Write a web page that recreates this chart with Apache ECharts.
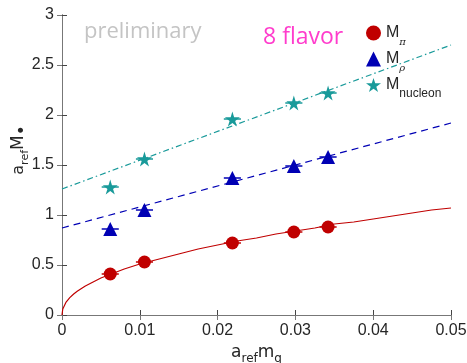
<!DOCTYPE html>
<html><head><meta charset="utf-8">
<script src="https://cdn.jsdelivr.net/npm/echarts@6/dist/echarts.min.js"></script>
<style>html,body{margin:0;padding:0;background:#fff}#c{width:467px;height:363px}</style>
</head><body><div id="c"></div>
<script>
// Data
const mq = [0.0062, 0.0106, 0.0219, 0.0298, 0.0342];
const mPi = [0.41, 0.53, 0.72, 0.83, 0.88];
const mRho = [0.86, 1.05, 1.37, 1.49, 1.58];
const mNucleon = [1.28, 1.56, 1.96, 2.12, 2.22];
const mqErr = [0.0011, 0.0011, 0.0011, 0.0011, 0.0011];
// fit curves
const fitPiX = [0, 0.0001, 0.0002, 0.0005, 0.001, 0.0015, 0.002, 0.003, 0.004, 0.005, 0.006, 0.008, 0.01, 0.0125, 0.015, 0.0175, 0.02, 0.0225, 0.025, 0.0275, 0.03, 0.0325, 0.035, 0.0375, 0.04, 0.0425, 0.045, 0.0475, 0.05];
const fitPiY = [0, 0.06, 0.08, 0.126, 0.174, 0.21, 0.24, 0.29, 0.33, 0.37, 0.40, 0.46, 0.51, 0.56, 0.61, 0.66, 0.70, 0.74, 0.77, 0.81, 0.84, 0.87, 0.91, 0.93, 0.96, 0.99, 1.02, 1.05, 1.07];
const fitRhoX = [0, 0.05];
const fitRhoY = [0.87, 1.92];
const fitNucX = [0, 0.05];
const fitNucY = [1.26, 2.70];
const xTicks = [0, 0.01, 0.02, 0.03, 0.04, 0.05];
const yTicks = [0, 0.5, 1, 1.5, 2, 2.5, 3];

const cPi = '#c00000', cRho = '#0000b4', cNuc = '#199a9a';
const star = 'path://M50,0 L61,35 L98,35 L68,57 L79,91 L50,70 L21,91 L32,57 L2,35 L39,35 Z';
const zip = (a, b) => a.map((v, i) => [v, b[i]]);
function errSeries(ys, color) {
  return {
    type: 'custom', silent: true, z: 2,
    data: mq.map((x, i) => [x, ys[i], mqErr[i]]),
    renderItem: function (params, api) {
      const x = api.value(0), y = api.value(1), e = api.value(2);
      const p1 = api.coord([x - e, y]), p2 = api.coord([x + e, y]);
      return { type: 'line', shape: { x1: p1[0], y1: p1[1], x2: p2[0], y2: p2[1] }, style: { stroke: color, lineWidth: 1.5 } };
    }
  };
}
const tickFont = { fontFamily: 'Liberation Sans', fontSize: 16, color: '#262626' };
const chart = echarts.init(document.getElementById('c'));
chart.setOption({
  animation: false,
  grid: { left: 62, right: 16, top: 15, bottom: 48, containLabel: false, outerBoundsMode: 'none' },
  xAxis: [{
    type: 'value', min: 0, max: 0.05, interval: 0.01,
    axisLine: { lineStyle: { color: '#444', width: 1 } },
    axisTick: { inside: true, length: 5, lineStyle: { color: '#444' } },
    splitLine: { show: false },
    axisLabel: Object.assign({ margin: 8, formatter: v => xTicks.includes(+v.toFixed(2)) ? String(+v.toFixed(2)) : '' }, tickFont),
    name: '{a|a}{s|ref}{m|m}{s|q}', nameLocation: 'middle', nameGap: 27,
    nameTextStyle: { rich: {
      a: { fontFamily: 'DejaVu Sans', fontSize: 17, color: '#262626', verticalAlign: 'bottom' },
      m: { fontFamily: 'DejaVu Sans', fontSize: 17, color: '#262626', verticalAlign: 'bottom' },
      s: { fontFamily: 'DejaVu Sans', fontSize: 12, color: '#262626', verticalAlign: 'bottom', padding: [0, 0, -4, 0] }
    } }
  }, {
    type: 'value', min: 0, max: 0.05, interval: 0.01, position: 'top',
    axisLine: { show: true, lineStyle: { color: '#777' } },
    axisTick: { show: true, inside: true, length: 5, lineStyle: { color: '#777' } },
    axisLabel: { show: false }, splitLine: { show: false }
  }],
  yAxis: [{
    type: 'value', min: 0, max: 3, interval: 0.5,
    axisLine: { show: true, lineStyle: { color: '#444' } },
    axisTick: { show: true, inside: true, length: 5, lineStyle: { color: '#444' } },
    splitLine: { show: false },
    axisLabel: Object.assign({ margin: 8, formatter: v => String(v) }, tickFont),
    name: '{a|a}{s|ref}{m|M}{d|•}', nameLocation: 'middle', nameGap: 35, nameRotate: 90, nameMoveOverlap: false,
    nameTextStyle: { padding: [0, 0, 0, 30], rich: {
      a: { fontFamily: 'DejaVu Sans', fontSize: 16, color: '#262626', verticalAlign: 'bottom' },
      m: { fontFamily: 'DejaVu Sans', fontSize: 17, color: '#262626', verticalAlign: 'bottom' },
      d: { fontFamily: 'DejaVu Sans', fontSize: 17, color: '#262626', verticalAlign: 'bottom', padding: [0, 0, -4, 0] },
      s: { fontFamily: 'DejaVu Sans', fontSize: 11, color: '#262626', verticalAlign: 'bottom', padding: [0, 0, -4, 0] }
    } }
  }, {
    type: 'value', min: 0, max: 3, interval: 0.5, position: 'right',
    axisLine: { show: true, lineStyle: { color: '#777' } },
    axisTick: { show: true, inside: true, length: 5, lineStyle: { color: '#777' } },
    axisLabel: { show: false }, splitLine: { show: false }
  }],
  legend: {
    orient: 'vertical', left: 366, top: 25, padding: 0, itemGap: 4, itemWidth: 15, itemHeight: 15,
    data: [
      { name: 'pi', icon: 'circle' },
      { name: 'rho', icon: 'triangle' },
      { name: 'nucleon', icon: star }
    ],
    formatter: n => n === 'pi' ? '{m|M}{g|π}' : n === 'rho' ? '{m|M}{g|ρ}' : '{m|M}{s|nucleon}',
    textStyle: { rich: {
      m: { fontFamily: 'Liberation Sans', fontSize: 16, color: '#262626', verticalAlign: 'bottom' },
      g: { fontFamily: 'DejaVu Serif', fontStyle: 'italic', fontSize: 10, color: '#262626', verticalAlign: 'bottom', padding: [0, 0, -6, 0] },
      s: { fontFamily: 'Liberation Sans', fontSize: 12, color: '#262626', verticalAlign: 'bottom', padding: [0, 0, -7, 0] }
    } }
  },
  graphic: [
    { type: 'text', left: 84, top: 21, style: { text: 'preliminary', fontFamily: 'Open Sans', fontSize: 22, fill: '#c4c4c4' } },
    { type: 'text', left: 263, top: 26, style: { text: '8 flavor', fontFamily: 'Open Sans', fontSize: 23, fill: '#ff3ccc' } }
  ],
  series: [
    { type: 'line', data: zip(fitPiX, fitPiY), smooth: false, showSymbol: false, silent: true, lineStyle: { color: cPi, width: 1.2 }, z: 1 },
    { type: 'line', data: zip(fitRhoX, fitRhoY), showSymbol: false, silent: true, lineStyle: { color: cRho, width: 1.2, type: [7, 5] }, z: 1 },
    { type: 'line', data: zip(fitNucX, fitNucY), showSymbol: false, silent: true, lineStyle: { color: cNuc, width: 1.2, type: [6, 3, 1.5, 3] }, z: 1 },
    errSeries(mPi, cPi), errSeries(mRho, cRho), errSeries(mNucleon, cNuc),
    { name: 'pi', type: 'scatter', data: zip(mq, mPi), symbol: 'circle', symbolSize: 13, itemStyle: { color: cPi, opacity: 1 }, z: 3 },
    { name: 'rho', type: 'scatter', data: zip(mq, mRho), symbol: 'triangle', symbolSize: 14, itemStyle: { color: cRho, opacity: 1 }, z: 3 },
    { name: 'nucleon', type: 'scatter', data: zip(mq, mNucleon), symbol: star, symbolSize: 15, itemStyle: { color: cNuc, opacity: 1 }, z: 3 }
  ]
});
</script></body></html>
